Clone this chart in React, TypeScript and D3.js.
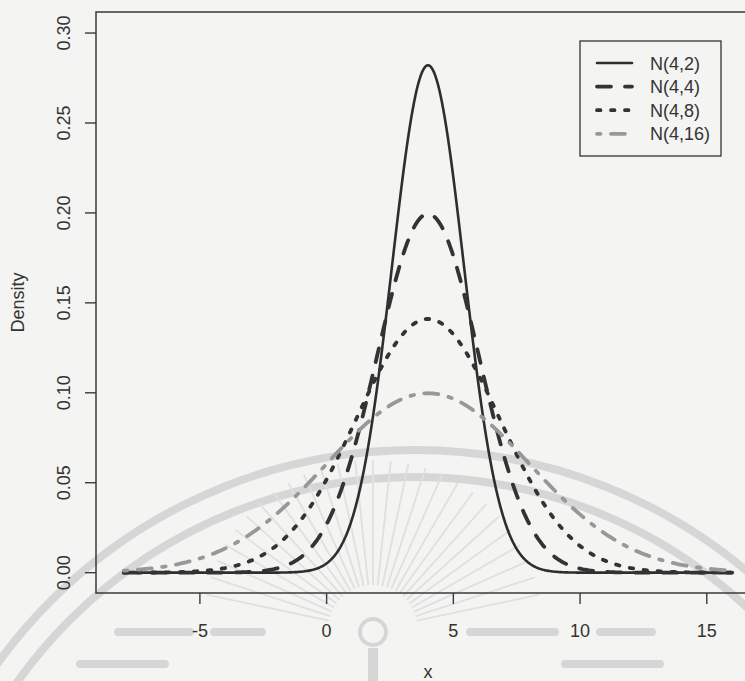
import React from "react";
import * as d3 from "d3";

// Normal densities N(mean, variance) shown in the figure
const seriesLabels = ["N(4,2)", "N(4,4)", "N(4,8)", "N(4,16)"];
const seriesMeans = [4, 4, 4, 4];
const seriesVariances = [2, 4, 8, 16];
const curveRange = [-8, 16];

const xTicks = [-5, 0, 5, 10, 15];
const yTicks = [0, 0.05, 0.1, 0.15, 0.2, 0.25, 0.3];
const yTickLabels = ["0.00", "0.05", "0.10", "0.15", "0.20", "0.25", "0.30"];

// Line styles in the spirit of R's lty 1..4
const lineStyles = [
  { color: "#2e2e2e", width: 2.6, dash: "none" },
  { color: "#333333", width: 3.8, dash: "14 14" },
  { color: "#333333", width: 3.8, dash: "3.5 10.5" },
  { color: "#989898", width: 3.8, dash: "3.5 10.5 14 10.5" },
];

const W = 745;
const H = 681;
const FONT = "'Liberation Sans', Arial, Helvetica, sans-serif";
const FS = 18;

function dnorm(x: number, mu: number, v: number) {
  return Math.exp(-((x - mu) ** 2) / (2 * v)) / Math.sqrt(2 * Math.PI * v);
}

export default function App() {
  const x = d3.scaleLinear().domain([-9.1, 17.1]).range([96, 760]);
  const y = d3.scaleLinear().domain([-0.0113, 0.3117]).range([593, 12]);
  const [bx0, bx1] = x.range();
  const [by1, by0] = y.range();

  const grid = d3.range(0, 481).map(
    (i) => curveRange[0] + ((curveRange[1] - curveRange[0]) * i) / 480
  );
  const line = d3
    .line<[number, number]>()
    .x((d) => x(d[0]))
    .y((d) => y(d[1]));

  const paths = seriesLabels.map((_, i) =>
    line(grid.map((g) => [g, dnorm(g, seriesMeans[i], seriesVariances[i])] as [number, number]))
  );

  // faint seal watermark in the page background
  const sealCx = 415;
  const sealCy = 965;
  const rays = d3.range(-78, 79, 6).map((a) => (a * Math.PI) / 180);
  const bars: [number, number, number][] = [
    [118, 190, 632],
    [214, 262, 632],
    [470, 555, 632],
    [600, 652, 632],
    [80, 165, 664],
    [565, 660, 664],
  ];

  const legendRows = seriesLabels.map((_, i) => 63 + 23.6 * i);

  return (
    <svg width={W} height={H} style={{ display: "block", position: "absolute", left: 0, top: 0 }}>
      <rect x={0} y={0} width={W} height={H} fill="#f4f4f2" />
      <g stroke="#d6d6d6" fill="none">
        <circle cx={sealCx} cy={sealCy} r={515} strokeWidth={8} />
        <circle cx={sealCx} cy={sealCy} r={488} strokeWidth={8} />
        {rays.map((a, i) => (
          <line
            key={i}
            x1={373 + Math.sin(a) * 45}
            y1={630 - Math.cos(a) * 45}
            x2={373 + Math.sin(a) * 170}
            y2={630 - Math.cos(a) * 170}
            strokeWidth={1.8}
            stroke="#e0e0e0"
          />
        ))}
        <circle cx={373} cy={632} r={13} strokeWidth={4} />
        <line x1={373} y1={648} x2={373} y2={681} strokeWidth={10} />
        {bars.map(([a, b, yy], i) => (
          <line key={i} x1={a} y1={yy} x2={b} y2={yy} strokeWidth={8} strokeLinecap="round" />
        ))}
      </g>

      {/* curves */}
      {paths.map((p, i) => (
        <path
          key={i}
          d={p || ""}
          fill="none"
          stroke={lineStyles[i].color}
          strokeWidth={lineStyles[i].width}
          strokeDasharray={lineStyles[i].dash}
          strokeLinecap="round"
          strokeLinejoin="round"
        />
      ))}

      {/* plot box */}
      <rect
        x={bx0}
        y={by0}
        width={bx1 - bx0}
        height={by1 - by0}
        fill="none"
        stroke="#3a3a3a"
        strokeWidth={1.5}
      />

      {/* x axis */}
      {xTicks.map((t) => (
        <g key={t}>
          <line x1={x(t)} x2={x(t)} y1={by1} y2={by1 + 11} stroke="#3a3a3a" strokeWidth={1.4} />
          <text
            x={x(t)}
            y={637}
            textAnchor="middle"
            fontFamily={FONT}
            fontSize={FS}
            fill="#333"
          >
            {t}
          </text>
        </g>
      ))}

      {/* y axis */}
      {yTicks.map((t, i) => (
        <g key={t}>
          <line x1={bx0 - 11} x2={bx0} y1={y(t)} y2={y(t)} stroke="#3a3a3a" strokeWidth={1.4} />
          <text
            transform={`translate(70,${y(t)}) rotate(-90)`}
            textAnchor="middle"
            fontFamily={FONT}
            fontSize={FS}
            fill="#333"
          >
            {yTickLabels[i]}
          </text>
        </g>
      ))}

      {/* axis titles */}
      <text
        x={(bx0 + bx1) / 2}
        y={678}
        textAnchor="middle"
        fontFamily={FONT}
        fontSize={FS}
        fill="#333"
      >
        x
      </text>
      <text
        transform={`translate(24,${(by0 + by1) / 2}) rotate(-90)`}
        textAnchor="middle"
        fontFamily={FONT}
        fontSize={FS}
        fill="#333"
      >
        Density
      </text>

      {/* legend */}
      <rect x={580} y={41} width={141} height={115} fill="#f4f4f2" stroke="#333" strokeWidth={1.3} />
      {seriesLabels.map((lab, i) => (
        <g key={lab}>
          <line
            x1={597}
            x2={632}
            y1={legendRows[i]}
            y2={legendRows[i]}
            stroke={lineStyles[i].color}
            strokeWidth={lineStyles[i].width}
            strokeDasharray={lineStyles[i].dash}
            strokeLinecap="round"
          />
          <text
            x={650}
            y={legendRows[i] + 6.5}
            fontFamily={FONT}
            fontSize={FS}
            fill="#333"
          >
            {lab}
          </text>
        </g>
      ))}
    </svg>
  );
}
